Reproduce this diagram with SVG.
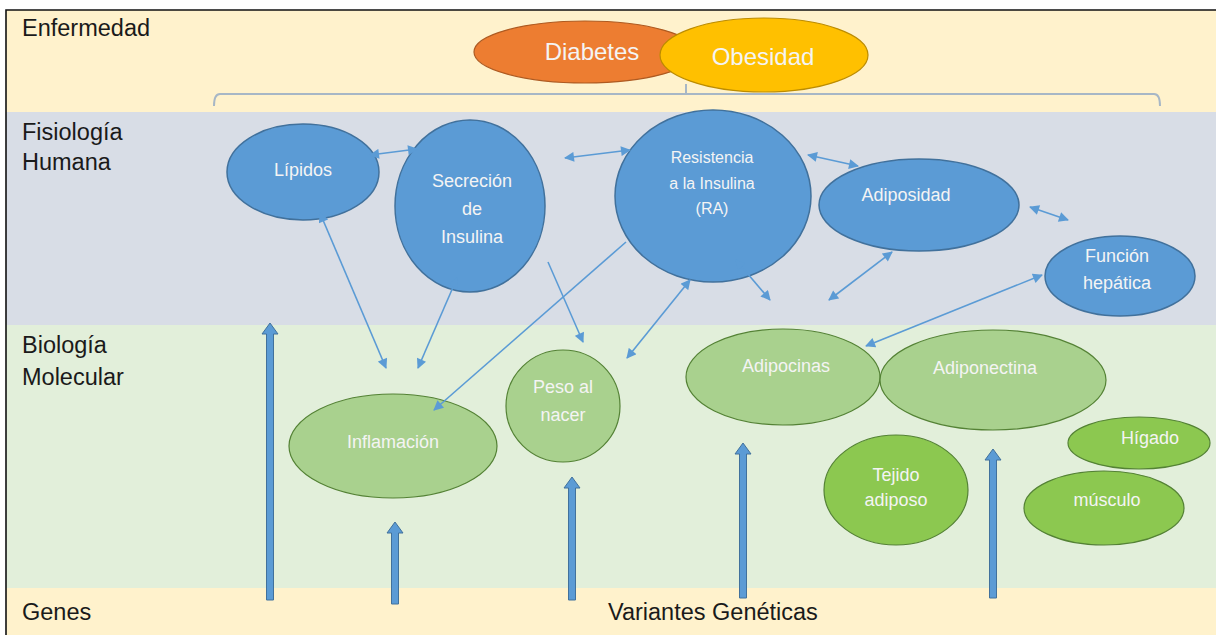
<svg xmlns="http://www.w3.org/2000/svg" width="1216" height="635" viewBox="0 0 1216 635">
<defs>
<style>
.band-label{font-family:"Liberation Sans",Arial,sans-serif;font-size:23.5px;fill:#1a1a1a}
.nt{font-family:"Liberation Sans",Arial,sans-serif;font-size:18px;fill:#f4f4f4;text-anchor:middle;dominant-baseline:central}
.big{font-size:24px}
.ra{font-size:16px}
.blue{fill:#5B9BD5;stroke:#41719C;stroke-width:1.5}
.green{fill:#A9D18E;stroke:#548235;stroke-width:1.2}
.lgreen{fill:#8CC850;stroke:#548235;stroke-width:1.2}
.thin{stroke:#5B9BD5;stroke-width:1.6;fill:none}
.block{fill:#5B9BD5;stroke:#41719C;stroke-width:1}
</style>
<marker id="ah" viewBox="0 0 10 10" refX="9" refY="5" markerWidth="11" markerHeight="10" markerUnits="userSpaceOnUse" orient="auto-start-reverse">
<path d="M0,0 L10,5 L0,10 Z" fill="#5B9BD5"/>
</marker>
</defs>

<g id="bands">
<rect x="0" y="0" width="1216" height="635" fill="#ffffff"/>
<rect x="6" y="10" width="1210" height="102" fill="#FFF2CC"/>
<rect x="6" y="112" width="1210" height="213" fill="#D8DDE6"/>
<rect x="6" y="325" width="1210" height="263" fill="#E2EFDA"/>
<rect x="6" y="588" width="1210" height="47" fill="#FFF2CC"/>
<path d="M6,635 V10 H1216" fill="none" stroke="#111" stroke-width="1.6"/>
</g>

<g id="labels">
<text class="band-label" x="22" y="36">Enfermedad</text>
<text class="band-label" x="22" y="140">Fisiología</text>
<text class="band-label" x="22" y="170">Humana</text>
<text class="band-label" x="22" y="353">Biología</text>
<text class="band-label" x="22" y="385">Molecular</text>
<text class="band-label" x="22" y="620">Genes</text>
<text class="band-label" x="608" y="620">Variantes Genéticas</text>
</g>

<g id="bracket">
<path d="M214,106 Q214,94 220,94 H1154 Q1160,94 1160,106 M686,94 V84" fill="none" stroke="#A7B7C6" stroke-width="2"/>
</g>

<g id="node-diabetes">
<ellipse cx="585" cy="52" rx="111" ry="31" fill="#ED7D31" stroke="#AE5A21" stroke-width="1.2"/>
<text class="nt big" x="592" y="51">Diabetes</text>
</g>
<g id="node-obesidad">
<ellipse cx="764" cy="55" rx="104" ry="37" fill="#FFC000" stroke="#BC8C00" stroke-width="1.2"/>
<text class="nt big" x="763" y="56">Obesidad</text>
</g>

<g id="node-lipidos">
<ellipse class="blue" cx="303" cy="172" rx="76" ry="48"/>
<text class="nt" x="303" y="170">Lípidos</text>
</g>
<g id="node-secrecion">
<ellipse class="blue" cx="470" cy="206" rx="75" ry="86"/>
<text class="nt" x="472" y="181">Secreción</text>
<text class="nt" x="472" y="209">de</text>
<text class="nt" x="472" y="237">Insulina</text>
</g>
<g id="node-ra">
<ellipse class="blue" cx="713" cy="196" rx="98" ry="86"/>
<text class="nt ra" x="712" y="157">Resistencia</text>
<text class="nt ra" x="712" y="183">a la Insulina</text>
<text class="nt ra" x="712" y="208">(RA)</text>
</g>
<g id="node-adiposidad">
<ellipse class="blue" cx="919" cy="205" rx="100" ry="46"/>
<text class="nt" x="906" y="195">Adiposidad</text>
</g>
<g id="node-funcion">
<ellipse class="blue" cx="1120" cy="276" rx="75" ry="40"/>
<text class="nt" x="1117" y="256">Función</text>
<text class="nt" x="1117" y="283">hepática</text>
</g>

<g id="node-peso">
<ellipse class="green" cx="563" cy="406" rx="57" ry="56"/>
<text class="nt" x="563" y="387">Peso al</text>
<text class="nt" x="563" y="415">nacer</text>
</g>
<g id="node-adipocinas">
<ellipse class="green" cx="783" cy="377" rx="97" ry="48"/>
<text class="nt" x="786" y="366">Adipocinas</text>
</g>
<g id="node-adiponectina">
<ellipse class="green" cx="993" cy="380" rx="113" ry="50"/>
<text class="nt" x="985" y="368">Adiponectina</text>
</g>
<g id="node-inflamacion">
<ellipse class="green" cx="393" cy="446" rx="104" ry="52"/>
<text class="nt" x="393" y="442">Inflamación</text>
</g>
<g id="node-higado">
<ellipse class="lgreen" cx="1139" cy="443" rx="71" ry="26"/>
<text class="nt" x="1150" y="438">Hígado</text>
</g>
<g id="node-tejido">
<ellipse class="lgreen" cx="896" cy="490" rx="72" ry="55"/>
<text class="nt" x="896" y="475">Tejido</text>
<text class="nt" x="896" y="500">adiposo</text>
</g>
<g id="node-musculo">
<ellipse class="lgreen" cx="1104" cy="508" rx="80" ry="37"/>
<text class="nt" x="1107" y="500">músculo</text>
</g>

<g id="connectors">
<line class="thin" x1="370" y1="155" x2="417" y2="149" marker-start="url(#ah)" marker-end="url(#ah)"/>
<line class="thin" x1="565" y1="158" x2="630" y2="150" marker-start="url(#ah)" marker-end="url(#ah)"/>
<line class="thin" x1="808" y1="155" x2="858" y2="166" marker-start="url(#ah)" marker-end="url(#ah)"/>
<line class="thin" x1="1030" y1="207" x2="1068" y2="220" marker-start="url(#ah)" marker-end="url(#ah)"/>
<line class="thin" x1="320" y1="213" x2="386" y2="368" marker-start="url(#ah)" marker-end="url(#ah)"/>
<line class="thin" x1="457" y1="278" x2="418" y2="368" marker-start="url(#ah)" marker-end="url(#ah)"/>
<line class="thin" x1="626" y1="242" x2="434" y2="410" marker-end="url(#ah)"/>
<line class="thin" x1="548" y1="262" x2="583" y2="342" marker-end="url(#ah)"/>
<line class="thin" x1="627" y1="358" x2="690" y2="280" marker-start="url(#ah)" marker-end="url(#ah)"/>
<line class="thin" x1="736" y1="260" x2="770" y2="300" marker-start="url(#ah)" marker-end="url(#ah)"/>
<line class="thin" x1="892" y1="252" x2="829" y2="300" marker-start="url(#ah)" marker-end="url(#ah)"/>
<line class="thin" x1="1042" y1="275" x2="866" y2="346" marker-start="url(#ah)" marker-end="url(#ah)"/>
<path class="block" d="M266.5,600 V334 H262 L270,323 L278,334 H273.5 V600 Z"/>
<path class="block" d="M391.5,604 V533 H387 L395,522 L403,533 H398.5 V604 Z"/>
<path class="block" d="M568.5,600 V488 H564 L572,477 L580,488 H575.5 V600 Z"/>
<path class="block" d="M739.5,598 V454 H735 L743,443 L751,454 H746.5 V598 Z"/>
<path class="block" d="M989.5,598 V460 H985 L993,449 L1001,460 H996.5 V598 Z"/>
</g>
</svg>
